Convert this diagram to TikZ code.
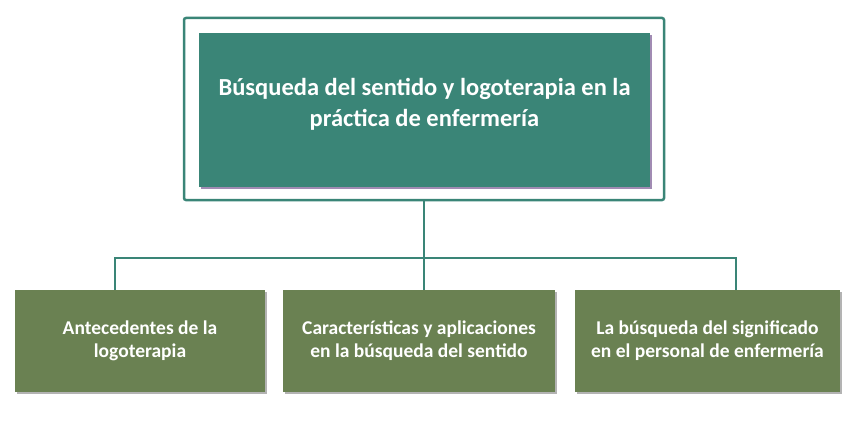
\documentclass[tikz,border=0pt]{standalone}
\usepackage{fontspec}
\setmainfont{Carlito}
\usetikzlibrary{shadows}
\definecolor{tealbox}{HTML}{3A8577}
\definecolor{olivebox}{HTML}{6A8152}
\definecolor{shadowpurple}{HTML}{8A6FA0}
\begin{document}
\begin{tikzpicture}[x=1pt, y=-1pt]

\tikzset{
  topbox/.style = {rectangle, fill=tealbox, text=white, font=\fontsize{24.5}{31}\selectfont\bfseries,
    minimum width=451pt, minimum height=154pt, align=center, text depth=16pt,
    drop shadow={shadow xshift=2pt, shadow yshift=-2pt, fill=shadowpurple, opacity=.8}},
  subbox/.style = {rectangle, fill=olivebox, text=white, font=\fontsize{19.5}{23}\selectfont\bfseries,
    minimum height=102pt, align=center,
    drop shadow={shadow xshift=2pt, shadow yshift=-2pt, fill=gray, opacity=.6}},
  link/.style = {draw=tealbox, line width=2.5pt}
}

\useasboundingbox (0,0) rectangle (850,420);

\node[draw=tealbox, line width=2.5pt, fill=white, rounded corners=2pt,
  minimum width=480pt, minimum height=182pt] (frame) at (424,109) {};
\node[topbox] (title) at (424.5,110)
  {Búsqueda del sentido y logoterapia en la\\práctica de enfermería};

\node[subbox, minimum width=250pt] (a) at (140,341) {Antecedentes de la\\logoterapia};
\node[subbox, minimum width=272pt] (b) at (419,341) {Características y aplicaciones\\en la búsqueda del sentido};
\node[subbox, minimum width=265pt] (c) at (707.5,341) {La búsqueda del significado\\en el personal de enfermería};

\coordinate (hub) at (424,258);
\draw[link] (frame.south) -- (hub);
\draw[link] (a.north -| 115,0) |- (hub) -| (b.north -| 424,0);
\draw[link] (hub) -| (c.north -| 736,0);
\end{tikzpicture}
\end{document}
